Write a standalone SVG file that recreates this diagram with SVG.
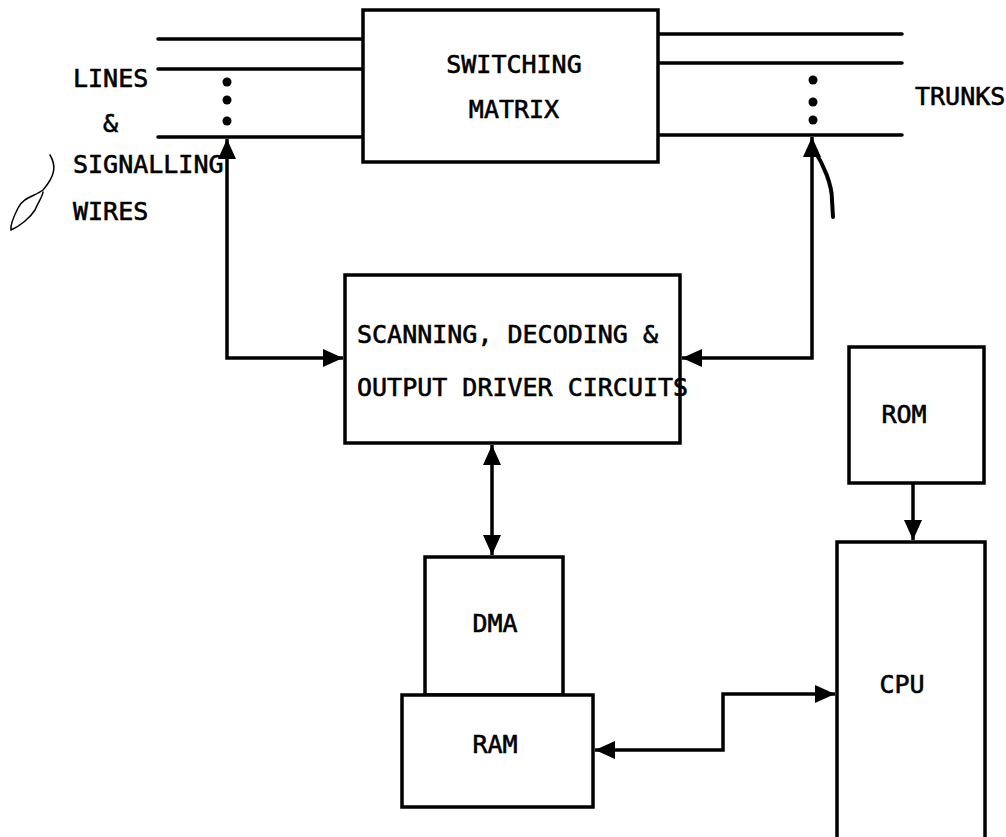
<svg xmlns="http://www.w3.org/2000/svg" width="1006" height="837" viewBox="0 0 1006 837">
<style>
.box{fill:#fff;stroke:#000;stroke-width:3.5}
.ln{fill:none;stroke:#000;stroke-width:3.5}
.wire{fill:none;stroke:#000;stroke-width:3.5;stroke-linecap:round}
.t{font-family:"DejaVu Sans Mono","Liberation Mono",monospace;font-size:25px;fill:#000;stroke:#000;stroke-width:0.6}
.c{text-anchor:middle}
.dot{fill:#000}
.hand{fill:none;stroke:#000;stroke-width:1.5;stroke-linecap:round}
</style>
<defs>
<marker id="ah" markerUnits="userSpaceOnUse" markerWidth="24" markerHeight="24" viewBox="0 0 24 24" refX="21" refY="12" orient="auto-start-reverse">
<path d="M1,3 L21,12 L1,21 Z" fill="#000"/>
</marker>
</defs>
<rect width="1006" height="837" fill="#fff"/>
<g id="wires">
<path class="wire" d="M158,39 H363 M158,69 H363 M158,137 H363"/>
<path class="wire" d="M658,34 H902 M658,63 H902 M658,135 H902"/>
<circle class="dot" cx="227" cy="82" r="4.5"/>
<circle class="dot" cx="227" cy="100" r="4.5"/>
<circle class="dot" cx="227" cy="121" r="4.5"/>
<circle class="dot" cx="813" cy="80" r="4.5"/>
<circle class="dot" cx="813" cy="102" r="4.5"/>
<circle class="dot" cx="813" cy="120" r="4.5"/>
</g>
<g id="switching-matrix">
<rect class="box" x="363" y="10" width="295" height="152"/>
<text class="t c" x="514" y="73">SWITCHING</text>
<text class="t c" x="514" y="118">MATRIX</text>
</g>
<g id="labels">
<text class="t" x="73" y="87">LINES</text>
<text class="t" x="103" y="132">&amp;</text>
<text class="t" x="73" y="173">SIGNALLING</text>
<text class="t" x="73" y="220">WIRES</text>
<text class="t" x="915" y="105">TRUNKS</text>
</g>
<g id="scanning">
<rect class="box" x="345" y="275" width="335" height="168"/>
<text class="t" x="357" y="343">SCANNING, DECODING &amp;</text>
<text class="t" x="357" y="396">OUTPUT DRIVER CIRCUITS</text>
</g>
<g id="rom">
<rect class="box" x="849" y="347" width="135" height="136"/>
<text class="t c" x="904" y="423">ROM</text>
</g>
<g id="cpu">
<rect class="box" x="837" y="542" width="148" height="300"/>
<text class="t c" x="902" y="693">CPU</text>
</g>
<g id="dma">
<rect class="box" x="425" y="557" width="138" height="138"/>
<text class="t c" x="495" y="632">DMA</text>
</g>
<g id="ram">
<rect class="box" x="402" y="695" width="191" height="112"/>
<text class="t c" x="495" y="753">RAM</text>
</g>
<g id="connectors">
<path class="ln" d="M227,139 V358 H343" marker-start="url(#ah)" marker-end="url(#ah)"/>
<path class="ln" d="M812,137 V358 H682" marker-start="url(#ah)" marker-end="url(#ah)"/>
<path class="ln" d="M492,445 V555" marker-start="url(#ah)" marker-end="url(#ah)"/>
<path class="ln" d="M595,750 H723 V694 H835" marker-start="url(#ah)" marker-end="url(#ah)"/>
<path class="ln" d="M913,483 V540" marker-end="url(#ah)"/>
</g>
<g id="annotations">
<path d="M814,150 C824,165 832,185 832,200 L833,217" fill="none" stroke="#000" stroke-width="4" stroke-linecap="round"/>
<path class="hand" d="M50,155 C56,165 56,175 43,190 C35,196 22,198 18,208 C14,216 10,225 11,230 C20,226 30,218 35,210 C38,202 42,198 43,192"/>
</g>
</svg>
